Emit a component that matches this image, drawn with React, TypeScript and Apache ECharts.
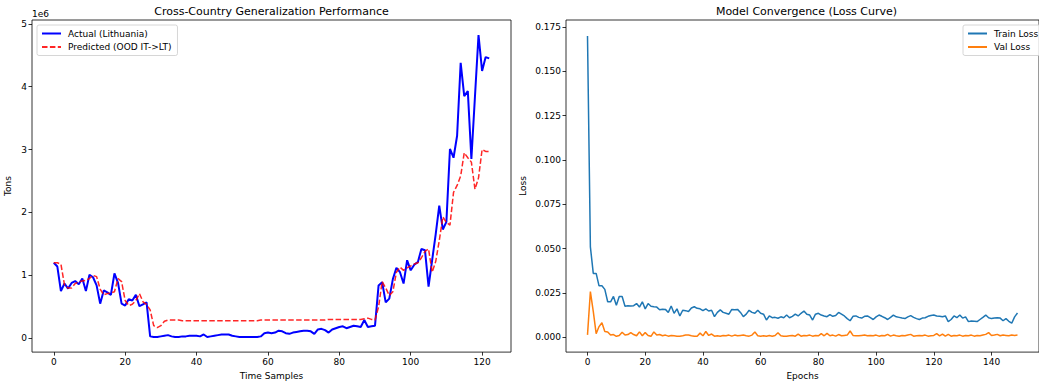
import React, { useEffect, useRef } from "react";
import * as echarts from "echarts";

// Cross-country chart: values in millions of tons (axis shows "1e6" offset)
const actualLithuaniaMillions = [
  1.20, 1.14, 0.75, 0.87, 0.79, 0.88, 0.91, 0.86, 0.95, 0.75,
  1.01, 0.97, 0.84, 0.55, 0.76, 0.73, 0.69, 1.03, 0.88, 0.55,
  0.52, 0.62, 0.60, 0.69, 0.51, 0.54, 0.57, 0.03, 0.02, 0.02,
  0.03, 0.04, 0.05, 0.03, 0.02, 0.02, 0.03, 0.03, 0.04, 0.04,
  0.04, 0.03, 0.06, 0.02, 0.03, 0.04, 0.05, 0.06, 0.06, 0.06,
  0.04, 0.03, 0.02, 0.02, 0.02, 0.02, 0.02, 0.02, 0.03, 0.08,
  0.09, 0.08, 0.09, 0.12, 0.11, 0.08, 0.07, 0.09, 0.10, 0.11,
  0.12, 0.12, 0.11, 0.07, 0.14, 0.15, 0.13, 0.09, 0.14, 0.16,
  0.18, 0.19, 0.16, 0.18, 0.20, 0.19, 0.18, 0.29, 0.18, 0.19,
  0.20, 0.84, 0.89, 0.57, 0.63, 0.94, 1.12, 1.05, 0.87, 1.24,
  1.08, 1.17, 1.21, 1.42, 1.40, 0.82, 1.24, 1.65, 2.11, 1.73,
  1.85, 3.01, 2.87, 3.22, 4.38, 3.85, 3.93, 2.85, 3.84, 4.82,
  4.25, 4.47, 4.45,
];

const predictedOodMillions = [
  1.20, 1.20, 1.18, 0.85, 0.80, 0.80, 0.87, 0.90, 0.91, 0.92,
  0.95, 1.00, 0.98, 0.78, 0.69, 0.71, 0.72, 0.74, 0.95, 0.90,
  0.60, 0.52, 0.54, 0.60, 0.71, 0.58, 0.54, 0.45, 0.20, 0.17,
  0.20, 0.27, 0.29, 0.29, 0.29, 0.29, 0.28, 0.28, 0.28, 0.28,
  0.28, 0.28, 0.28, 0.28, 0.28, 0.28, 0.28, 0.28, 0.28, 0.28,
  0.28, 0.28, 0.28, 0.28, 0.28, 0.28, 0.28, 0.28, 0.29, 0.29,
  0.29, 0.29, 0.29, 0.29, 0.29, 0.29, 0.29, 0.29, 0.29, 0.29,
  0.29, 0.29, 0.29, 0.29, 0.29, 0.29, 0.29, 0.30, 0.30, 0.30,
  0.30, 0.30, 0.30, 0.30, 0.30, 0.30, 0.30, 0.31, 0.32, 0.30,
  0.29, 0.50, 0.90, 0.80, 0.68, 0.74, 1.05, 1.13, 1.08, 1.12,
  1.15, 1.18, 1.20, 1.28, 1.38, 1.42, 1.05, 1.22, 1.55, 1.93,
  1.84, 1.80, 2.32, 2.43, 2.58, 2.95, 2.87, 2.80, 2.37, 2.55,
  3.00, 2.97, 2.97,
];

const trainLoss = [
  0.1700, 0.0510, 0.0360, 0.0360, 0.0290, 0.0290, 0.0270, 0.0200, 0.0200, 0.0230,
  0.0180, 0.0230, 0.0230, 0.0175, 0.0177, 0.0176, 0.0178, 0.0190, 0.0170, 0.0200,
  0.0160, 0.0190, 0.0175, 0.0172, 0.0170, 0.0155, 0.0158, 0.0157, 0.0140, 0.0176,
  0.0135, 0.0160, 0.0120, 0.0152, 0.0150, 0.0145, 0.0165, 0.0172, 0.0163, 0.0160,
  0.0150, 0.0160, 0.0148, 0.0152, 0.0116, 0.0140, 0.0154, 0.0140, 0.0135, 0.0130,
  0.0157, 0.0155, 0.0157, 0.0140, 0.0116, 0.0130, 0.0152, 0.0140, 0.0135, 0.0152,
  0.0135, 0.0130, 0.0097, 0.0120, 0.0110, 0.0112, 0.0107, 0.0115, 0.0110, 0.0125,
  0.0110, 0.0118, 0.0130, 0.0120, 0.0135, 0.0148, 0.0130, 0.0125, 0.0097, 0.0130,
  0.0135, 0.0125, 0.0120, 0.0116, 0.0128, 0.0118, 0.0122, 0.0140, 0.0130, 0.0120,
  0.0105, 0.0093, 0.0118, 0.0120, 0.0112, 0.0108, 0.0118, 0.0120, 0.0110, 0.0100,
  0.0115, 0.0125, 0.0118, 0.0110, 0.0100, 0.0112, 0.0125, 0.0115, 0.0112, 0.0108,
  0.0105, 0.0115, 0.0122, 0.0112, 0.0105, 0.0100, 0.0108, 0.0110, 0.0118, 0.0122,
  0.0125, 0.0120, 0.0118, 0.0115, 0.0120, 0.0088, 0.0100, 0.0120, 0.0110, 0.0125,
  0.0108, 0.0115, 0.0088, 0.0092, 0.0090, 0.0088, 0.0100, 0.0112, 0.0125, 0.0110,
  0.0105, 0.0108, 0.0110, 0.0108, 0.0093, 0.0105, 0.0090, 0.0079, 0.0115, 0.0137,
];

const valLoss = [
  0.0013, 0.0257, 0.0146, 0.0020, 0.0060, 0.0082, 0.0032, 0.0030, 0.0012, 0.0015,
  0.0005, 0.0010, 0.0028, 0.0012, 0.0015, 0.0026, 0.0015, 0.0008, 0.0030, 0.0008,
  0.0026, 0.0010, 0.0005, 0.0030, 0.0012, 0.0015, 0.0008, 0.0012, 0.0006, 0.0010,
  0.0008, 0.0006, 0.0006, 0.0008, 0.0012, 0.0012, 0.0008, 0.0006, 0.0006, 0.0023,
  0.0008, 0.0032, 0.0010, 0.0018, 0.0006, 0.0008, 0.0006, 0.0010, 0.0008, 0.0012,
  0.0006, 0.0012, 0.0008, 0.0010, 0.0012, 0.0008, 0.0006, 0.0012, 0.0030, 0.0008,
  0.0006, 0.0008, 0.0006, 0.0010, 0.0006, 0.0010, 0.0025, 0.0008, 0.0006, 0.0006,
  0.0008, 0.0010, 0.0006, 0.0018, 0.0006, 0.0010, 0.0008, 0.0012, 0.0006, 0.0010,
  0.0008, 0.0020, 0.0008, 0.0022, 0.0008, 0.0012, 0.0006, 0.0015, 0.0008, 0.0010,
  0.0012, 0.0035, 0.0010, 0.0008, 0.0008, 0.0010, 0.0012, 0.0008, 0.0010, 0.0008,
  0.0012, 0.0006, 0.0010, 0.0008, 0.0016, 0.0006, 0.0012, 0.0008, 0.0006, 0.0010,
  0.0008, 0.0012, 0.0016, 0.0006, 0.0008, 0.0010, 0.0008, 0.0012, 0.0006, 0.0008,
  0.0010, 0.0020, 0.0008, 0.0018, 0.0006, 0.0016, 0.0006, 0.0010, 0.0008, 0.0012,
  0.0006, 0.0010, 0.0008, 0.0012, 0.0006, 0.0010, 0.0008, 0.0012, 0.0016, 0.0026,
  0.0010, 0.0012, 0.0016, 0.0008, 0.0012, 0.0010, 0.0008, 0.0012, 0.0010, 0.0012,
];

const leftXTicks = [0, 20, 40, 60, 80, 100, 120];
const leftYTicks = [0, 1, 2, 3, 4, 5];
const rightXTicks = [0, 20, 40, 60, 80, 100, 120, 140];
const rightYTicks = [0, 0.025, 0.05, 0.075, 0.1, 0.125, 0.15, 0.175];

const FONT = "DejaVu Sans";
const toPairs = (arr: number[]) => arr.map((v, i) => [i, v]);

export default function App() {
  const ref = useRef<HTMLDivElement>(null);
  useEffect(() => {
    document.body.style.margin = "0";
    document.body.style.overflow = "hidden";
    const chart = echarts.init(ref.current!, null, { renderer: "svg" });
    const tickStyle = { show: true, inside: false, length: 3.5, lineStyle: { color: "#000", width: 0.8 } };
    const labelStyle = { color: "#000", fontSize: 9, fontFamily: FONT, margin: 5 };
    const nameStyle = { color: "#000", fontSize: 9, fontFamily: FONT };
    const noLine = { show: false, onZero: false };
    const legendBase = {
      orient: "vertical" as const,
      top: 25,
      itemWidth: 19,
      itemHeight: 9,
      itemGap: 4.5,
      padding: [4, 6, 4, 4],
      borderColor: "#cccccc",
      borderWidth: 0.8,
      borderRadius: 2,
      backgroundColor: "rgba(255,255,255,0.8)",
      itemStyle: { opacity: 0 },
      textStyle: { color: "#000", fontSize: 9, fontFamily: FONT, padding: [0, 0, 0, 2] },
      selectedMode: false,
    };
    const titleStyle = (text: string) => ({
      text, fill: "#000", fontSize: 11, fontFamily: FONT, fontWeight: "normal",
      textAlign: "center", textVerticalAlign: "middle",
    });
    chart.setOption({
      animation: false,
      backgroundColor: "#fff",
      textStyle: { fontFamily: FONT },
      grid: [
        { left: 32, top: 20, width: 479, height: 334, show: true, borderColor: "#000", borderWidth: 0.8, containLabel: false },
        { left: 566, top: 20, width: 481, height: 334, show: true, borderColor: "#000", borderWidth: 0.8, containLabel: false },
      ],
      xAxis: [
        {
          type: "value", gridIndex: 0, min: -6.1, max: 128.1,
          axisLine: noLine, splitLine: { show: false },
          axisTick: { ...tickStyle, customValues: leftXTicks },
          axisLabel: { ...labelStyle, customValues: leftXTicks, formatter: (v: number) => String(v) },
          name: "Time Samples", nameLocation: "middle", nameGap: 18, nameTextStyle: nameStyle,
        },
        {
          type: "value", gridIndex: 1, min: -7.45, max: 156.45,
          axisLine: noLine, splitLine: { show: false },
          axisTick: { ...tickStyle, customValues: rightXTicks },
          axisLabel: { ...labelStyle, customValues: rightXTicks, formatter: (v: number) => String(v) },
          name: "Epochs", nameLocation: "middle", nameGap: 18, nameTextStyle: nameStyle,
        },
      ],
      yAxis: [
        {
          type: "value", gridIndex: 0, min: -0.22, max: 5.06,
          axisLine: noLine, splitLine: { show: false },
          axisTick: { ...tickStyle, customValues: leftYTicks },
          axisLabel: { ...labelStyle, customValues: leftYTicks, formatter: (v: number) => String(v) },
          name: "Tons", nameLocation: "middle", nameGap: 20, nameRotate: 90, nameTextStyle: nameStyle,
        },
        {
          type: "value", gridIndex: 1, min: -0.0084, max: 0.179,
          axisLine: noLine, splitLine: { show: false },
          axisTick: { ...tickStyle, customValues: rightYTicks },
          axisLabel: { ...labelStyle, customValues: rightYTicks, formatter: (v: number) => v.toFixed(3) },
          name: "Loss", nameLocation: "middle", nameGap: 39, nameRotate: 90, nameTextStyle: nameStyle,
        },
      ],
      legend: [
        { ...legendBase, left: 37, data: ["Actual (Lithuania)", "Predicted (OOD IT->LT)"] },
        { ...legendBase, left: 963, data: ["Train Loss", "Val Loss"] },
      ],
      graphic: [
        { type: "text", x: 271.5, y: 11, style: titleStyle("Cross-Country Generalization Performance") },
        { type: "text", x: 806.5, y: 11, style: titleStyle("Model Convergence (Loss Curve)") },
        { type: "text", x: 32, y: 14, style: { text: "1e6", fill: "#000", fontSize: 9, fontFamily: FONT, textAlign: "left", textVerticalAlign: "middle" } },
      ],
      series: [
        {
          name: "Actual (Lithuania)", type: "line", xAxisIndex: 0, yAxisIndex: 0,
          data: toPairs(actualLithuaniaMillions), showSymbol: false, symbol: "none",
          lineStyle: { color: "#0000ff", width: 2 }, itemStyle: { color: "#0000ff" },
        },
        {
          name: "Predicted (OOD IT->LT)", type: "line", xAxisIndex: 0, yAxisIndex: 0,
          data: toPairs(predictedOodMillions), showSymbol: false, symbol: "none",
          lineStyle: { color: "#ff0000", width: 1.5, type: [5.5, 2.4], opacity: 0.85 }, itemStyle: { color: "#ff0000" },
        },
        {
          name: "Train Loss", type: "line", xAxisIndex: 1, yAxisIndex: 1,
          data: toPairs(trainLoss), showSymbol: false, symbol: "none",
          lineStyle: { color: "#1f77b4", width: 1.5 }, itemStyle: { color: "#1f77b4" },
        },
        {
          name: "Val Loss", type: "line", xAxisIndex: 1, yAxisIndex: 1,
          data: toPairs(valLoss), showSymbol: false, symbol: "none",
          lineStyle: { color: "#ff7f0e", width: 1.5 }, itemStyle: { color: "#ff7f0e" },
        },
      ],
    });
    return () => chart.dispose();
  }, []);
  return <div ref={ref} style={{ width: 1039, height: 385 }} />;
}
